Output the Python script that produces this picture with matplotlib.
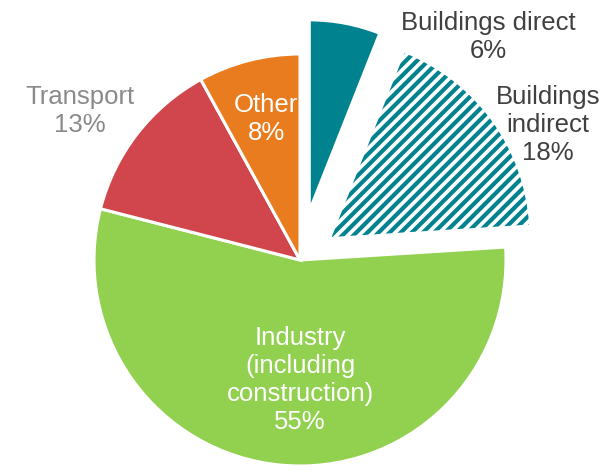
import matplotlib
matplotlib.use("Agg")
import matplotlib.pyplot as plt

# ── Data ─────────────────────────────────────────────────────────────────────
SECTORS = ["Buildings direct", "Buildings indirect",
           "Industry (including construction)", "Transport", "Other"]
SHARES  = [6, 18, 55, 13, 8]
LABELS  = ["Buildings direct\n6%", "Buildings\nindirect\n18%",
           "Industry\n(including\nconstruction)\n55%", "Transport\n13%", "Other\n8%"]

# ── Style ────────────────────────────────────────────────────────────────────
TEAL   = "#00838f"
GREEN  = "#92d050"
RED    = "#d0464c"
ORANGE = "#e87c1e"
COLORS = [TEAL, "white", GREEN, RED, ORANGE]
EXPLODE = [0.24, 0.19, 0, 0, 0]

plt.rcParams["font.family"] = ["Liberation Sans", "DejaVu Sans"]
plt.rcParams["hatch.linewidth"] = 3.0

W, H = 611, 474
R_PX = 206            # pie radius in pixels
CX, CY = 300, 260     # pie centre (pixels from top-left)

fig = plt.figure(figsize=(W / 100, H / 100), dpi=100)
ax = fig.add_axes([0, 0, 1, 1])

wedges, _ = ax.pie(SHARES, colors=COLORS, startangle=90, counterclock=False,
                   explode=EXPLODE,
                   wedgeprops=dict(edgecolor="white", linewidth=2.2))

# exploded building slices are drawn a little smaller
wedges[0].set_radius(0.93)
wedges[1].set_radius(0.96)
hatched = wedges[1]
hatched.set_edgecolor(TEAL)
hatched.set_linewidth(0)
hatched.set_hatch("///")

ax.set_xlim(-CX / R_PX, (W - CX) / R_PX)
ax.set_ylim(-(H - CY) / R_PX, CY / R_PX)
ax.set_aspect("equal")
ax.axis("off")


def px(x, y):
    return (x - CX) / R_PX, (CY - y) / R_PX


# label placement (pixels), colours
label_pos = [(488, 37), (548, 125), (300, 380), (80, 111), (266, 119)]
label_col = ["#404040", "#404040", "white", "#8a8a8a", "white"]

for text, (x, y), c in zip(LABELS, label_pos, label_col):
    ax.text(*px(x, y), text, ha="center", va="center", color=c,
            fontsize=18.5, linespacing=1.2)

fig.savefig("out.png", dpi=100, facecolor="white")
